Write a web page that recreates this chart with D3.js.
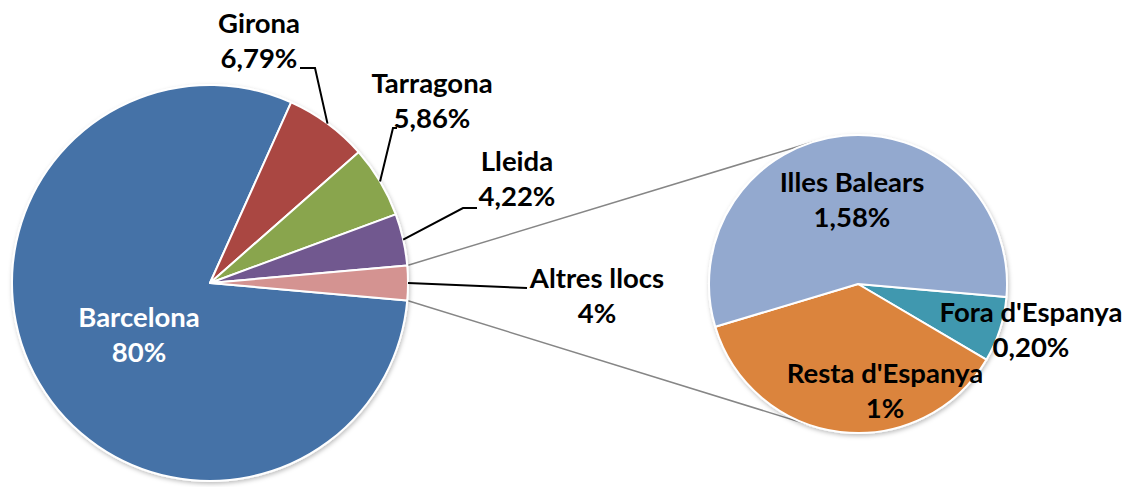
<!DOCTYPE html>
<html>
<head>
<meta charset="utf-8">
<script src="https://cdn.jsdelivr.net/npm/d3@7"></script>
<style>
  html, body { margin: 0; padding: 0; background: #fff; }
  svg { display: block; }
  .lbl { font-family: Lato, "Open Sans", sans-serif; font-weight: 700; font-size: 27.5px; }
</style>
</head>
<body>
<svg id="chart" width="1130" height="487"></svg>
<script>
// data
const mainNames  = ["Barcelona", "Girona", "Tarragona", "Lleida", "Altres llocs"];
const mainValues = [80.3, 6.79, 5.86, 4.22, 2.82];
const mainLabels = ["80%", "6,79%", "5,86%", "4,22%", "4%"];
const mainColors = ["#4572a7", "#aa4643", "#89a54e", "#71588f", "#d49391"];

const subNames  = ["Fora d'Espanya", "Resta d'Espanya", "Illes Balears"];
const subValues = [0.20, 1.04, 1.58];
const subLabels = ["0,20%", "1%", "1,58%"];
const subColors = ["#4198af", "#db843d", "#93a9cf"];

// layout
const main = { cx: 210, cy: 283, r: 198 };
const sub  = { cx: 858, cy: 284, r: 149, start: 95 };
const lineGap = 35;
// label anchor: centre x, baseline of first line; leader = elbow points after the arc point
const labelPos = {
  "Barcelona":       { x: 139, y: 327, fill: "#fff" },
  "Girona":          { x: 259, y: 33, leader: [[315, 68], [300, 68]] },
  "Tarragona":       { x: 432, y: 93, leader: [[393, 128], [397, 128]] },
  "Lleida":          { x: 517, y: 171, leader: [[463, 208], [477, 208]] },
  "Altres llocs":    { x: 597, y: 288, leader: [[527, 288]] },
  "Illes Balears":   { x: 852, y: 192 },
  "Fora d'Espanya":  { x: 1031, y: 322 },
  "Resta d'Espanya": { x: 885, y: 383 }
};

const svg = d3.select("#chart");
const defs = svg.append("defs");
const f = defs.append("filter").attr("id", "shadow")
  .attr("x", "-10%").attr("y", "-10%").attr("width", "120%").attr("height", "120%");
f.append("feDropShadow").attr("dx", 1).attr("dy", 2).attr("stdDeviation", 2)
  .attr("flood-color", "#000").attr("flood-opacity", 0.25);

const deg = Math.PI / 180;
const mainTotal = d3.sum(mainValues);
const lastAng = mainValues[mainValues.length - 1] / mainTotal * 2 * Math.PI;
const a0 = Math.PI / 2 + lastAng / 2 - 2 * Math.PI;

const mainData = mainNames.map((n, i) => ({ name: n, value: mainValues[i], label: mainLabels[i], color: mainColors[i] }));
const subData = subNames.map((n, i) => ({ name: n, value: subValues[i], label: subLabels[i], color: subColors[i] }));

const mainArcs = d3.pie().sort(null).value(d => d.value)
  .startAngle(a0).endAngle(a0 + 2 * Math.PI)(mainData);
const subArcs = d3.pie().sort(null).value(d => d.value)
  .startAngle(sub.start * deg).endAngle(sub.start * deg + 2 * Math.PI)(subData);

const pt = (c, r, a) => [c.cx + r * Math.sin(a), c.cy - r * Math.cos(a)];

// connector lines: tangents from the outer corners of the "Altres" slice to the second pie
const other = mainArcs[mainArcs.length - 1];
function tangent(p, side) {
  const dx = p[0] - sub.cx, dy = p[1] - sub.cy, d = Math.hypot(dx, dy);
  const base = Math.atan2(dy, dx), alpha = Math.acos(sub.r / d);
  const t = base + side * alpha;
  return [sub.cx + sub.r * Math.cos(t), sub.cy + sub.r * Math.sin(t)];
}
const pTop = pt(main, main.r, other.startAngle), pBot = pt(main, main.r, other.endAngle);
const conn = svg.append("g");
[[pTop, tangent(pTop, 1)], [pBot, tangent(pBot, -1)]].forEach(([a, b]) => {
  conn.append("line")
    .attr("x1", a[0]).attr("y1", a[1]).attr("x2", b[0]).attr("y2", b[1])
    .attr("stroke", "#868686").attr("stroke-width", 1.5);
});

function drawPie(arcs, c) {
  const arc = d3.arc().innerRadius(0).outerRadius(c.r);
  const g = svg.append("g").attr("transform", `translate(${c.cx},${c.cy})`)
    .attr("filter", "url(#shadow)");
  g.selectAll("path").data(arcs).join("path")
    .attr("d", arc)
    .attr("fill", d => d.data.color)
    .attr("stroke", "#fff").attr("stroke-width", 2).attr("stroke-linejoin", "round");
}
drawPie(mainArcs, main);
drawPie(subArcs, sub);

// leader lines
const leaders = svg.append("g");
mainArcs.forEach(d => {
  const lp = labelPos[d.data.name];
  if (!lp.leader) return;
  const mid = (d.startAngle + d.endAngle) / 2;
  const pts = [pt(main, main.r, mid)].concat(lp.leader);
  leaders.append("path")
    .attr("d", d3.line()(pts))
    .attr("fill", "none").attr("stroke", "#000").attr("stroke-width", 2);
});

// labels
const labels = svg.append("g");
mainData.concat(subData).forEach(d => {
  const lp = labelPos[d.name];
  const t = labels.append("text").attr("class", "lbl")
    .attr("text-anchor", "middle").attr("fill", lp.fill || "#000");
  t.append("tspan").attr("x", lp.x).attr("y", lp.y).text(d.name);
  t.append("tspan").attr("x", lp.x).attr("y", lp.y + lineGap).text(d.label);
});
</script>
</body>
</html>
